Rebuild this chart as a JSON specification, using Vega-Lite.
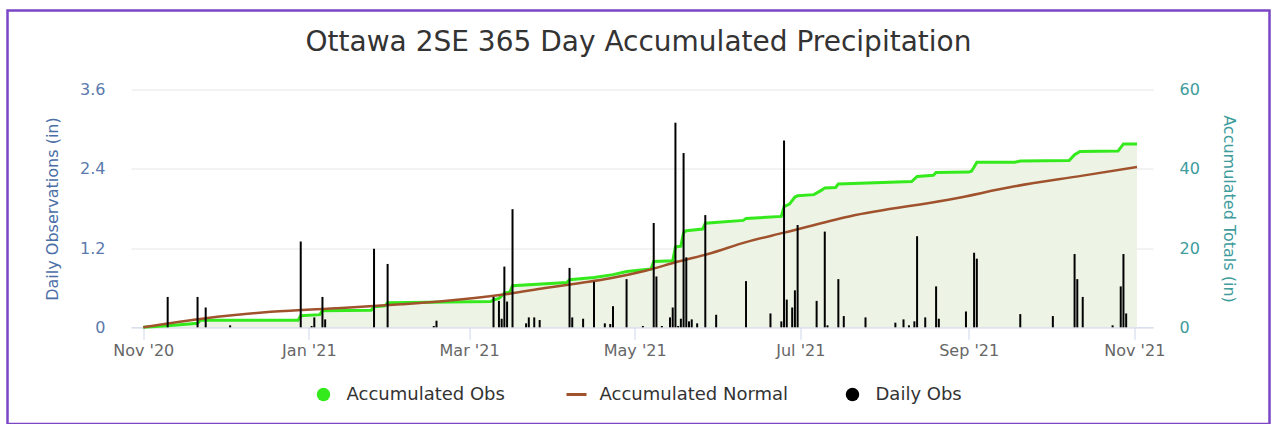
{
  "$schema": "https://vega.github.io/schema/vega-lite/v6.json",
  "width": 1262,
  "height": 413.5,
  "autosize": {"type": "none"},
  "padding": {"left": 7.5, "top": 10.5, "right": 2.5, "bottom": 0},
  "background": "white",
  "config": {
    "view": {"stroke": "#7b45c6", "strokeWidth": 2.5},
    "font": "DejaVu Sans"
  },
  "title": {
    "text": "Ottawa 2SE 365 Day Accumulated Precipitation",
    "font": "DejaVu Sans",
    "fontSize": 28,
    "fontWeight": "normal",
    "color": "#333333",
    "anchor": "middle",
    "offset": -46
  },
  "datasets": {
    "daily": [
      {"date": "2020-11-10", "value": 0.46},
      {"date": "2020-11-21", "value": 0.46},
      {"date": "2020-11-24", "value": 0.30},
      {"date": "2020-12-03", "value": 0.03},
      {"date": "2020-12-29", "value": 1.30},
      {"date": "2021-01-02", "value": 0.02},
      {"date": "2021-01-03", "value": 0.15},
      {"date": "2021-01-06", "value": 0.46},
      {"date": "2021-01-07", "value": 0.12},
      {"date": "2021-01-25", "value": 1.19},
      {"date": "2021-01-30", "value": 0.96},
      {"date": "2021-02-16", "value": 0.02},
      {"date": "2021-02-17", "value": 0.10},
      {"date": "2021-03-10", "value": 0.46},
      {"date": "2021-03-12", "value": 0.40},
      {"date": "2021-03-13", "value": 0.13},
      {"date": "2021-03-14", "value": 0.92},
      {"date": "2021-03-15", "value": 0.39},
      {"date": "2021-03-17", "value": 1.79},
      {"date": "2021-03-22", "value": 0.06},
      {"date": "2021-03-23", "value": 0.15},
      {"date": "2021-03-25", "value": 0.15},
      {"date": "2021-03-27", "value": 0.11},
      {"date": "2021-04-07", "value": 0.90},
      {"date": "2021-04-08", "value": 0.15},
      {"date": "2021-04-12", "value": 0.13},
      {"date": "2021-04-16", "value": 0.69},
      {"date": "2021-04-20", "value": 0.06},
      {"date": "2021-04-22", "value": 0.05},
      {"date": "2021-04-23", "value": 0.32},
      {"date": "2021-04-28", "value": 0.73},
      {"date": "2021-05-04", "value": 0.02},
      {"date": "2021-05-08", "value": 1.58},
      {"date": "2021-05-09", "value": 0.77},
      {"date": "2021-05-11", "value": 0.02},
      {"date": "2021-05-14", "value": 0.15},
      {"date": "2021-05-15", "value": 0.30},
      {"date": "2021-05-16", "value": 3.10},
      {"date": "2021-05-17", "value": 0.02},
      {"date": "2021-05-18", "value": 0.13},
      {"date": "2021-05-19", "value": 2.64},
      {"date": "2021-05-20", "value": 1.06},
      {"date": "2021-05-21", "value": 0.09},
      {"date": "2021-05-22", "value": 0.12},
      {"date": "2021-05-24", "value": 0.06},
      {"date": "2021-05-27", "value": 1.70},
      {"date": "2021-05-31", "value": 0.19},
      {"date": "2021-06-11", "value": 0.70},
      {"date": "2021-06-20", "value": 0.21},
      {"date": "2021-06-24", "value": 0.09},
      {"date": "2021-06-25", "value": 2.83},
      {"date": "2021-06-26", "value": 0.42},
      {"date": "2021-06-28", "value": 0.30},
      {"date": "2021-06-29", "value": 0.56},
      {"date": "2021-06-30", "value": 1.55},
      {"date": "2021-07-07", "value": 0.40},
      {"date": "2021-07-10", "value": 1.45},
      {"date": "2021-07-11", "value": 0.03},
      {"date": "2021-07-15", "value": 0.73},
      {"date": "2021-07-17", "value": 0.17},
      {"date": "2021-07-25", "value": 0.15},
      {"date": "2021-08-05", "value": 0.07},
      {"date": "2021-08-08", "value": 0.12},
      {"date": "2021-08-10", "value": 0.03},
      {"date": "2021-08-12", "value": 0.09},
      {"date": "2021-08-13", "value": 1.38},
      {"date": "2021-08-16", "value": 0.15},
      {"date": "2021-08-20", "value": 0.62},
      {"date": "2021-08-21", "value": 0.13},
      {"date": "2021-08-31", "value": 0.24},
      {"date": "2021-09-03", "value": 1.13},
      {"date": "2021-09-04", "value": 1.04},
      {"date": "2021-09-20", "value": 0.20},
      {"date": "2021-10-02", "value": 0.17},
      {"date": "2021-10-10", "value": 1.11},
      {"date": "2021-10-11", "value": 0.73},
      {"date": "2021-10-13", "value": 0.46},
      {"date": "2021-10-24", "value": 0.03},
      {"date": "2021-10-27", "value": 0.62},
      {"date": "2021-10-28", "value": 1.11},
      {"date": "2021-10-29", "value": 0.21}
    ],
    "obs": [
      {"date": "2020-11-01", "value": 0},
      {"date": "2020-11-10", "value": 0.4},
      {"date": "2020-11-21", "value": 1.0},
      {"date": "2020-11-22", "value": 1.8},
      {"date": "2020-12-28", "value": 1.8},
      {"date": "2020-12-29", "value": 2.9},
      {"date": "2021-01-05", "value": 3.2},
      {"date": "2021-01-06", "value": 4.2},
      {"date": "2021-01-24", "value": 4.3},
      {"date": "2021-01-25", "value": 5.2},
      {"date": "2021-01-29", "value": 5.4},
      {"date": "2021-01-30", "value": 6.2},
      {"date": "2021-03-09", "value": 6.5},
      {"date": "2021-03-10", "value": 6.9},
      {"date": "2021-03-12", "value": 7.3},
      {"date": "2021-03-14", "value": 8.6},
      {"date": "2021-03-16", "value": 8.9},
      {"date": "2021-03-17", "value": 10.5},
      {"date": "2021-04-06", "value": 11.3},
      {"date": "2021-04-07", "value": 12.0},
      {"date": "2021-04-16", "value": 12.6},
      {"date": "2021-04-23", "value": 13.3},
      {"date": "2021-04-28", "value": 14.1},
      {"date": "2021-05-07", "value": 14.7},
      {"date": "2021-05-08", "value": 16.6},
      {"date": "2021-05-15", "value": 16.8},
      {"date": "2021-05-16", "value": 20.3},
      {"date": "2021-05-18", "value": 20.5},
      {"date": "2021-05-19", "value": 23.9},
      {"date": "2021-05-20", "value": 24.4},
      {"date": "2021-05-26", "value": 24.8},
      {"date": "2021-05-27", "value": 26.3},
      {"date": "2021-06-10", "value": 27.0},
      {"date": "2021-06-11", "value": 27.5},
      {"date": "2021-06-24", "value": 28.0},
      {"date": "2021-06-25", "value": 30.5},
      {"date": "2021-06-27", "value": 31.1},
      {"date": "2021-06-29", "value": 32.9},
      {"date": "2021-06-30", "value": 33.2},
      {"date": "2021-07-06", "value": 33.5},
      {"date": "2021-07-09", "value": 34.7},
      {"date": "2021-07-10", "value": 35.2},
      {"date": "2021-07-14", "value": 35.3},
      {"date": "2021-07-15", "value": 36.2},
      {"date": "2021-08-11", "value": 36.8},
      {"date": "2021-08-13", "value": 38.1},
      {"date": "2021-08-19", "value": 38.4},
      {"date": "2021-08-20", "value": 39.1},
      {"date": "2021-09-01", "value": 39.2},
      {"date": "2021-09-02", "value": 39.4},
      {"date": "2021-09-03", "value": 40.5},
      {"date": "2021-09-04", "value": 41.7},
      {"date": "2021-09-18", "value": 41.7},
      {"date": "2021-09-20", "value": 42.0},
      {"date": "2021-10-08", "value": 42.1},
      {"date": "2021-10-10", "value": 43.6},
      {"date": "2021-10-12", "value": 44.4},
      {"date": "2021-10-26", "value": 44.5},
      {"date": "2021-10-28", "value": 46.3},
      {"date": "2021-11-02", "value": 46.3}
    ],
    "normal": [
      {"date": "2020-11-01", "value": 0},
      {"date": "2020-11-24", "value": 2.3},
      {"date": "2020-12-18", "value": 3.9},
      {"date": "2021-01-13", "value": 4.9},
      {"date": "2021-02-04", "value": 5.8},
      {"date": "2021-02-18", "value": 6.5},
      {"date": "2021-03-15", "value": 8.4},
      {"date": "2021-03-29", "value": 9.9},
      {"date": "2021-04-11", "value": 11.2},
      {"date": "2021-04-22", "value": 12.4},
      {"date": "2021-05-05", "value": 14.3},
      {"date": "2021-05-17", "value": 16.6},
      {"date": "2021-05-28", "value": 18.5},
      {"date": "2021-06-11", "value": 21.5},
      {"date": "2021-06-25", "value": 23.9},
      {"date": "2021-07-19", "value": 28.0},
      {"date": "2021-08-26", "value": 32.4},
      {"date": "2021-09-18", "value": 35.6},
      {"date": "2021-10-13", "value": 38.3},
      {"date": "2021-11-02", "value": 40.5}
    ]
  },
  "layer": [
    {
      "data": {"name": "obs"},
      "mark": {"type": "area", "color": "#edf4e6", "opacity": 1},
      "encoding": {
        "x": {
          "field": "date", "type": "temporal",
          "scale": {"type": "utc", "domain": [{"year": 2020, "month": 10, "date": 29, "hours": 8, "utc": true}, {"year": 2021, "month": 11, "date": 6, "hours": 1, "utc": true}], "range": [123.5, 1145.5]},
          "axis": {
            "orient": "bottom", "offset": -96.7, "title": null, "grid": false,
            "values": [
              {"year": 2020, "month": 11, "date": 1, "utc": true},
              {"year": 2021, "month": 1, "date": 1, "utc": true},
              {"year": 2021, "month": 3, "date": 1, "utc": true},
              {"year": 2021, "month": 5, "date": 1, "utc": true},
              {"year": 2021, "month": 7, "date": 1, "utc": true},
              {"year": 2021, "month": 9, "date": 1, "utc": true},
              {"year": 2021, "month": 11, "date": 1, "utc": true}
            ],
            "labelExpr": "utcFormat(datum.value, \"%b '%y\")",
            "domainColor": "#ccd6eb", "tickColor": "#ccd6eb", "tickSize": 12,
            "labelColor": "#666666", "labelFontSize": 16, "labelFont": "DejaVu Sans", "labelPadding": 3
          }
        },
        "y": {
          "field": "value", "type": "quantitative",
          "scale": {"domain": [0, 60], "range": [316.8, 79.2], "nice": false},
          "axis": {
            "orient": "right", "offset": -116.5, "values": [0, 20, 40, 60],
            "grid": false, "domain": false, "ticks": false, "tickSize": 0,
            "labelPadding": 26, "labelColor": "#3e9c9c", "labelFontSize": 16, "labelFont": "DejaVu Sans",
            "title": "Accumulated Totals (in)", "titleColor": "#3e9c9c", "titleFontSize": 16,
            "titleFontWeight": "normal", "titleFont": "DejaVu Sans", "titlePadding": 21
          }
        }
      }
    },
    {
      "data": {"name": "obs"},
      "mark": {"type": "line", "strokeWidth": 3, "interpolate": "linear"},
      "encoding": {
        "x": {"field": "date", "type": "temporal"},
        "y": {"field": "value", "type": "quantitative", "scale": {"domain": [0, 60], "range": [316.8, 79.2], "nice": false}, "axis": null},
        "color": {"datum": "Accumulated Obs", "type": "nominal"}
      }
    },
    {
      "data": {"name": "normal"},
      "mark": {"type": "line", "strokeWidth": 2.5, "interpolate": "monotone"},
      "encoding": {
        "x": {"field": "date", "type": "temporal"},
        "y": {"field": "value", "type": "quantitative", "scale": {"domain": [0, 60], "range": [316.8, 79.2], "nice": false}, "axis": null},
        "color": {"datum": "Accumulated Normal", "type": "nominal"}
      }
    },
    {
      "data": {"name": "daily"},
      "mark": {"type": "bar", "width": 2},
      "encoding": {
        "x": {"field": "date", "type": "temporal"},
        "y": {
          "field": "value", "type": "quantitative",
          "scale": {"domain": [0, 3.6], "range": [316.8, 79.2], "nice": false},
          "axis": {
            "orient": "left", "offset": -123.5, "values": [0, 1.2, 2.4, 3.6],
            "labelExpr": "datum.value == 0 ? '0' : format(datum.value, '.1f')",
            "grid": true, "gridColor": "#e6e6e6", "gridWidth": 1,
            "domain": false, "ticks": false, "tickSize": 0,
            "labelPadding": 26, "labelColor": "#5a79ad", "labelFontSize": 16, "labelFont": "DejaVu Sans",
            "title": "Daily Observations (in)", "titleColor": "#4a6ea6", "titleFontSize": 16,
            "titleFontWeight": "normal", "titleFont": "DejaVu Sans", "titlePadding": 19
          }
        },
        "color": {
          "datum": "Daily Obs", "type": "nominal",
          "scale": {"domain": ["Accumulated Obs", "Accumulated Normal", "Daily Obs"], "range": ["#35ea1c", "#a0522d", "#000000"]},
          "legend": {
            "orient": "none", "legendX": 307, "legendY": 375, "direction": "horizontal",
            "title": null, "padding": 0, "columnPadding": 55, "labelOffset": 14, "labelLimit": 400,
            "labelFont": "DejaVu Sans", "labelFontSize": 18, "labelColor": "#333333",
            "symbolType": "circle", "symbolSize": 180, "symbolOpacity": 1,
            "encode": {
              "symbols": {
                "update": {
                  "shape": {"signal": "datum.value === 'Accumulated Normal' ? 'stroke' : 'circle'"},
                  "size": {"signal": "datum.value === 'Accumulated Normal' ? 400 : 180"},
                  "fill": {"signal": "scale('color', datum.value)"},
                  "stroke": {"signal": "scale('color', datum.value)"},
                  "strokeWidth": {"signal": "datum.value === 'Accumulated Normal' ? 3 : 0"},
                  "opacity": {"value": 1}
                }
              }
            }
          }
        }
      }
    }
  ],
  "resolve": {"scale": {"y": "independent"}}
}
